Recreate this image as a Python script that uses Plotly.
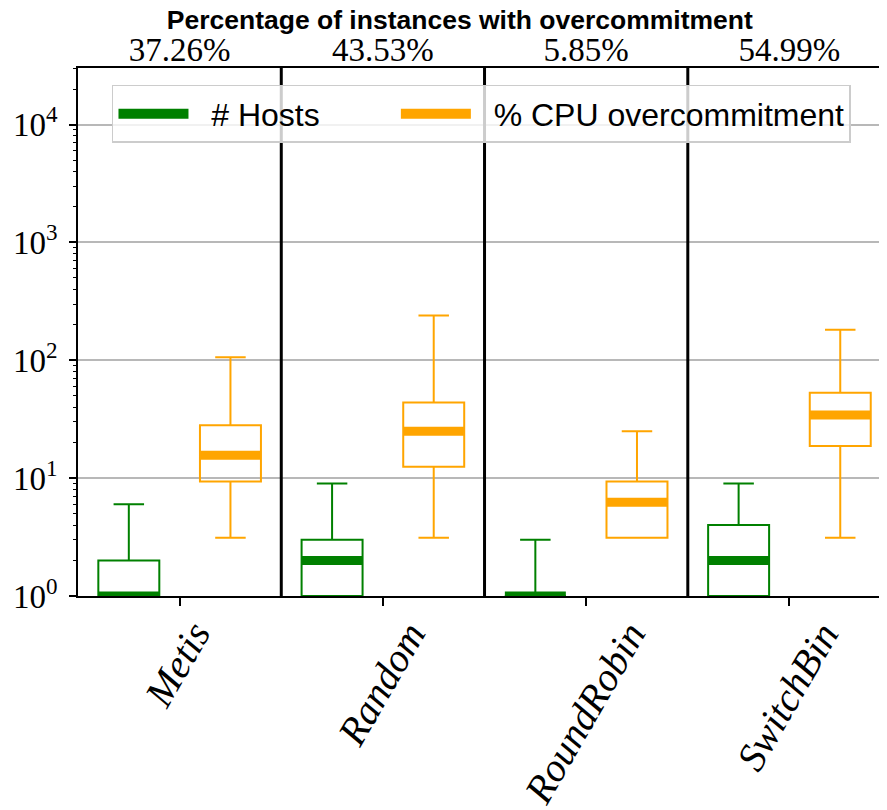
import plotly.graph_objects as go

# values
categories = ["Metis", "Random", "RoundRobin", "SwitchBin"]
pct_overcommit = ["37.26%", "43.53%", "5.85%", "54.99%"]

hosts_low = [1, 1, 1, 1]
hosts_q1 = [1, 1, 1, 1]
hosts_med = [1, 2, 1, 2]
hosts_q3 = [2, 3, 1, 4]
hosts_high = [6, 9, 3, 9]

cpu_low = [3.125, 3.125, 3.125, 3.125]
cpu_q1 = [9.375, 12.5, 3.125, 18.75]
cpu_med = [15.625, 25.0, 6.25, 34.375]
cpu_q3 = [28.125, 43.75, 9.375, 53.125]
cpu_high = [106.25, 240.0, 25.0, 181.25]

GREEN = "#008000"
ORANGE = "#FFA500"
NBSP = "\u00a0"

fig = go.Figure()


def add_box(name, color, low, q1, med, q3, high, group, pad):
    fig.add_trace(go.Box(
        x=categories, q1=q1, median=med, q3=q3,
        lowerfence=low, upperfence=high,
        name=name, offsetgroup=group, showlegend=False,
        line=dict(color=color, width=2), fillcolor="rgba(0,0,0,0)",
        whiskerwidth=0.5, hoverinfo="skip",
    ))
    # thick median bar
    fig.add_trace(go.Box(
        x=categories, q1=med, median=med, q3=med,
        lowerfence=med, upperfence=med,
        name=name, offsetgroup=group, showlegend=False,
        line=dict(color=color, width=9), fillcolor=color,
        whiskerwidth=0, hoverinfo="skip",
    ))
    # legend entry
    fig.add_trace(go.Scatter(
        x=[None], y=[None], mode="lines", name=NBSP * 2 + name + NBSP * pad,
        line=dict(color=color, width=10),
    ))


add_box("# Hosts", GREEN, hosts_low, hosts_q1, hosts_med, hosts_q3, hosts_high, "hosts", 8)
add_box("% CPU overcommitment", ORANGE, cpu_low, cpu_q1, cpu_med, cpu_q3, cpu_high, "cpu", 0)

# invisible trace to carry the top axis
fig.add_trace(go.Scatter(x=categories, y=[None] * len(categories), xaxis="x2",
                         showlegend=False, hoverinfo="skip"))

for i in range(len(categories) - 1):
    fig.add_vline(x=i + 0.5, line=dict(color="black", width=3))

# rotated, centred category labels
for c in categories:
    fig.add_annotation(x=c, y=0, xref="x", yref="paper", text="<i>%s</i>" % c,
                       textangle=-60, showarrow=False, xanchor="center", yanchor="top",
                       xshift=-2, yshift=-16,
                       font=dict(family="Liberation Serif", size=40, color="black"))

minor_vals = [m * 10 ** d for d in range(0, 5) for m in range(2, 10)]

fig.update_layout(
    width=879, height=802,
    margin=dict(l=70, r=0, t=60, b=214),
    plot_bgcolor="white", paper_bgcolor="white",
    boxmode="group", boxgap=0, boxgroupgap=0.4,
    title=dict(text="<b>Percentage of instances with overcommitment</b>",
               x=0.514, xanchor="center", y=0.986, yanchor="middle",
               font=dict(family="Liberation Sans", size=26.5, color="black")),
    legend=dict(orientation="h", x=0.042, y=0.968, xanchor="left", yanchor="top",
                bgcolor="rgba(255,255,255,0.8)", bordercolor="#cccccc", borderwidth=1.5,
                font=dict(family="Liberation Sans", size=32, color="black"),
                itemwidth=70),
    xaxis=dict(range=[-0.5, 3.48], tickvals=categories, showticklabels=False,
               ticks="outside", ticklen=8, tickwidth=1.5, tickcolor="black",
               showline=True, linecolor="black", linewidth=1.5, showgrid=False,
               automargin=False),
    xaxis2=dict(overlaying="x", side="top", anchor="y", range=[-0.5, 3.48],
                tickvals=categories, ticktext=pct_overcommit, ticks="",
                showline=True, linecolor="black", linewidth=1.5, showgrid=False,
                automargin=False, ticklabelstandoff=-8,
                tickfont=dict(family="Liberation Serif", size=33, color="black")),
    yaxis=dict(type="log", range=[0, 4.48],
               tickvals=[1, 10, 100, 1000, 10000],
               ticktext=["10<sup>%d</sup>" % p for p in range(5)],
               ticks="outside", ticklen=7, tickwidth=1.5, tickcolor="black",
               showline=True, linecolor="black", linewidth=1.5, automargin=False,
               showgrid=True, gridcolor="#b8b8b8", gridwidth=1.5, zeroline=False,
               ticklabelstandoff=5,
               minor=dict(tickvals=minor_vals, ticks="outside", ticklen=3.5,
                          tickwidth=1, tickcolor="black", showgrid=False),
               tickfont=dict(family="Liberation Serif", size=33, color="black")),
)

fig.write_html("out.html")
